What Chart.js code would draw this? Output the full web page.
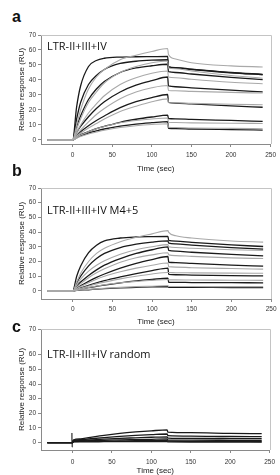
<!DOCTYPE html>
<html>
<head>
<meta charset="utf-8">
<script src="https://cdn.jsdelivr.net/npm/chart.js@4.4.1/dist/chart.umd.min.js"></script>
<style>
  html, body { margin: 0; padding: 0; background: #fff; overflow: hidden; }
  body { width: 280px; height: 475px; position: relative; }
  canvas { position: absolute; left: 0; }
  .letter { position: absolute; left: 12px; font: bold 16px "Liberation Sans", Arial, sans-serif; color: #111; line-height: 16px; }
  .label { position: absolute; left: 47px; font: 11px "Open Sans", sans-serif; color: #111; white-space: nowrap; line-height: 14px; }
</style>
</head>
<body>
<div class="letter" style="top:9px">a</div>
<canvas id="chartA" width="280" height="150" style="top:25px"></canvas>
<div class="label" style="top:39px">LTR-II+III+IV</div>

<div class="letter" style="top:163px">b</div>
<canvas id="chartB" width="280" height="150" style="top:178px"></canvas>
<div class="label" style="top:203px">LTR-II+III+IV M4+5</div>

<div class="letter" style="top:319px">c</div>
<canvas id="chartC" width="280" height="158" style="top:319px"></canvas>
<div class="label" style="top:347px">LTR-II+III+IV random</div>

<script>
// time points (sec) the curves were read at
const timeAB = [-32, 0, 5, 10, 20, 30, 40, 60, 80, 100, 120, 121, 130, 150, 200, 240];
const timeC = [-32, 0, 1, 10, 20, 40, 60, 80, 100, 120, 121, 150, 200, 240];

const xTicks = [0, 50, 100, 150, 200, 250];
const yTicks = [0, 10, 20, 30, 40, 50, 60, 70];

// panel a - fitted curves (black)
const aFit1 = [0, 0, 22, 36, 49, 53, 54.5, 55.3, 55.5, 55.6, 55.7, 49, 48.3, 47.2, 45, 43.8];
const aFit2 = [0, 0, 14, 25, 37, 43, 47, 51, 52.5, 53.2, 53.5, 48.5, 48, 47, 44.8, 43.5];
const aFit3 = [0, 0, 9, 16, 27, 34, 39, 45, 48, 49.5, 50.5, 45.5, 45, 44, 41.8, 40.2];
const aFit4 = [0, 0, 5, 9, 15.5, 21, 25.5, 32, 36.5, 39.5, 42, 36, 35.5, 34.8, 33.2, 32];
const aFit5 = [0, 0, 3, 5.5, 9.5, 13, 16, 21.5, 25.5, 28.3, 30.3, 25, 24.6, 24, 22.7, 21.8];
const aFit6 = [0, 0, 2, 3.5, 5.5, 7.5, 9, 11.8, 13.8, 15.3, 16.5, 14.3, 14.1, 13.7, 13, 12.4];
const aFit7 = [0, 0, 1.5, 2.8, 4.5, 6, 7.3, 9.2, 10.6, 11.5, 12.2, 7.8, 7.6, 7.3, 6.9, 6.6];
// panel a - measured curves (grey)
const aRaw1 = [0, 0, 10, 20, 34, 42, 47, 53.5, 56.5, 59, 61, 57, 54, 51.5, 49.4, 48.7];
const aRaw2 = [0, 0, 7, 14, 25, 32, 38, 45, 49, 51.5, 52.7, 48, 47.5, 46, 43, 41.2];
const aRaw3 = [0, 0, 5, 10, 18, 24, 29.5, 37, 41.5, 44.5, 46, 42, 41.5, 40.5, 38.5, 37.5];
const aRaw4 = [0, 0, 3.5, 6.5, 12, 17, 21, 27.5, 32, 34.8, 36.3, 33, 32.8, 32.4, 31.7, 31.3];
const aRaw5 = [0, 0, 2.5, 4.5, 8, 11, 14, 19, 22.5, 25.5, 27.4, 25, 24.8, 24.4, 23.8, 23.5];
const aRaw6 = [0, 0, 1.8, 3.3, 5.5, 7.5, 9, 11.5, 13, 14, 14.6, 11.8, 11.6, 11.4, 11.1, 11];
const aRaw7 = [0, 0, 1.2, 2.3, 4, 5.3, 6.5, 8.3, 9.5, 10.3, 10.8, 8.5, 8.3, 8, 7.7, 7.5];

// panel b - fitted curves (black)
const bFit1 = [0, 0, 10, 17, 26, 31, 34, 36, 36.7, 36.9, 37, 34.3, 33.8, 33, 31.3, 30.2];
const bFit2 = [0, 0, 5.5, 10, 17, 22, 25.5, 29.5, 31.8, 33.2, 34, 32.5, 32, 31.2, 29.5, 28.4];
const bFit3 = [0, 0, 3.3, 6, 10.5, 14.3, 17.5, 22, 25.5, 28, 30, 27.5, 27, 26.3, 24.8, 23.9];
const bFit4 = [0, 0, 2, 3.5, 6.5, 9.2, 11.5, 15.5, 18.8, 21.3, 23.4, 19.5, 19.2, 18.7, 17.5, 16.8];
const bFit5 = [0, 0, 1.1, 2, 3.8, 5.5, 7, 9.5, 11.8, 13.8, 15.5, 11.2, 11, 10.8, 10.4, 10.2];
const bFit6 = [0, 0, 0.6, 1.2, 2.2, 3.1, 4, 5.5, 6.8, 7.8, 8.6, 5.8, 5.8, 5.7, 5.6, 5.5];
const bFit7 = [0, 0, 0.3, 0.5, 0.8, 1.2, 1.5, 2, 2.4, 2.8, 3, 2.4, 2.4, 2.4, 2.3, 2.3];
// panel b - measured curves (grey)
const bRaw1 = [0, 0, 6, 12, 20, 25.5, 29, 33.5, 36.5, 38.8, 41, 39.8, 37.5, 36, 34, 33.2];
const bRaw2 = [0, 0, 4, 8, 13.5, 17.5, 20.5, 25, 28, 30, 31.5, 30, 29.5, 29, 28, 27.5];
const bRaw3 = [0, 0, 2.5, 5, 9, 12.3, 15, 19.5, 22.5, 24.5, 26, 24.5, 24, 23.5, 22.5, 22];
const bRaw4 = [0, 0, 1.5, 3, 5.5, 8, 10, 13, 15.5, 17.5, 19, 16.5, 16.2, 15.8, 15.2, 14.8];
const bRaw5 = [0, 0, 1, 1.8, 3.3, 4.8, 6, 8.2, 10, 11.5, 12.5, 12.5, 12.4, 12.3, 12.1, 12];
const bRaw6 = [0, 0, 0.6, 1.2, 2.3, 3.3, 4.2, 5.5, 6.5, 7.2, 7.8, 7.5, 7.5, 7.4, 7.3, 7.2];
const bRaw7 = [0, 0, 0.3, 0.6, 1, 1.4, 1.8, 2.4, 2.9, 3.2, 3.5, 3, 3, 3, 2.9, 2.9];

// panel c - curves (all dark)
const cFit1 = [0, 0, 1.8, 2.6, 3.4, 5, 6.3, 7.3, 8.1, 8.7, 7.2, 6.8, 6.3, 6.1];
const cFit2 = [0, 0, 1.5, 2, 2.5, 3.5, 4.3, 5, 5.5, 5.9, 4.8, 4.5, 4.2, 4.1];
const cFit3 = [0, 0, 1.2, 1.4, 1.8, 2.4, 2.9, 3.3, 3.7, 4, 3.1, 2.9, 2.8, 2.7];
const cFit4 = [0, 0, 1, 1.1, 1.3, 1.6, 1.9, 2.1, 2.3, 2.5, 1.8, 1.7, 1.6, 1.5];
const cFit5 = [0, 0, 0.8, 0.85, 0.9, 1, 1.15, 1.3, 1.4, 1.5, 1, 0.9, 0.85, 0.8];
const cFit6 = [0, 0, 0.5, 0.55, 0.6, 0.65, 0.7, 0.75, 0.8, 0.8, 0.5, 0.45, 0.4, 0.4];
// injection spike at t=0 in panel c
const cSpikeTime = [-1, -0.8, -0.6, 0];
const cSpike = [0, 6.6, -3, 0.5];

const GREY = '#a9a9a9';
const BLACK = '#1a1a1a';
const AXIS = '#8a8a8a';

const toPoints = (time, values) => time.map((t, i) => ({ x: t, y: values[i] }));

const lineSet = (time, values, color, width) => ({
  data: toPoints(time, values),
  borderColor: color,
  borderWidth: width,
  pointRadius: 0,
  fill: false,
  cubicInterpolationMode: 'monotone'
});

// top and right sides of the plot box
const framePlugin = {
  id: 'frame',
  beforeDatasetsDraw(chart) {
    const { ctx, chartArea } = chart;
    ctx.save();
    ctx.strokeStyle = '#c4c4c4';
    ctx.lineWidth = 1;
    ctx.beginPath();
    ctx.moveTo(Math.round(chartArea.left), Math.round(chartArea.top) + 0.5);
    ctx.lineTo(Math.round(chartArea.right) + 0.5, Math.round(chartArea.top) + 0.5);
    ctx.lineTo(Math.round(chartArea.right) + 0.5, Math.round(chartArea.bottom));
    ctx.stroke();
    ctx.restore();
  }
};

const configureChart = (datasets, yMin, yMax, xHeight, labelPad) => ({
  type: 'line',
  data: { datasets },
  plugins: [framePlugin],
  options: {
    responsive: false,
    animation: false,
    layout: { padding: { top: 10, left: 0, right: 0, bottom: 0 } },
    plugins: { legend: { display: false }, tooltip: { enabled: false } },
    scales: {
      x: {
        type: 'linear',
        min: -40,
        max: 250,
        afterBuildTicks: (scale) => { scale.ticks = xTicks.map(v => ({ value: v })); },
        afterFit: (scale) => { scale.height = xHeight; },
        grid: { drawOnChartArea: false, tickLength: 3, color: AXIS },
        border: { color: AXIS },
        ticks: {
          autoSkip: false, maxRotation: 0, padding: labelPad, color: '#333',
          font: { family: 'Liberation Sans', size: 6.5 }
        },
        title: {
          display: true, text: 'Time (sec)', color: '#222',
          font: { family: 'Liberation Sans', size: 8 }, padding: { top: 0, bottom: 1 }
        }
      },
      y: {
        min: yMin,
        max: yMax,
        // the top tick sits on the top of the box
        afterBuildTicks: (scale) => {
          scale.ticks = yTicks.map((v, i) => ({ value: i === yTicks.length - 1 ? scale.max : v }));
        },
        afterFit: (scale) => { scale.width = 41; },
        grid: { drawOnChartArea: false, tickLength: 3, color: AXIS },
        border: { color: AXIS },
        ticks: {
          autoSkip: false, padding: 2, color: '#333',
          font: { family: 'Liberation Sans', size: 6.5 },
          callback: (value, index) => yTicks[index]
        },
        title: {
          display: true, text: 'Relative response (RU)', color: '#222',
          font: { family: 'Liberation Sans', size: 8 }, padding: { top: 17, bottom: 0 }
        }
      }
    }
  }
});

const renderCharts = () => {
  const aRaw = [aRaw1, aRaw2, aRaw3, aRaw4, aRaw5, aRaw6, aRaw7];
  const aFit = [aFit1, aFit2, aFit3, aFit4, aFit5, aFit6, aFit7];
  const setsA = aRaw.map(v => lineSet(timeAB, v, GREY, 1.1)).concat(aFit.map(v => lineSet(timeAB, v, BLACK, 1.3)));
  new Chart(document.getElementById('chartA'), configureChart(setsA, -2.7, 70, 31, 4));

  const bRaw = [bRaw1, bRaw2, bRaw3, bRaw4, bRaw5, bRaw6, bRaw7];
  const bFit = [bFit1, bFit2, bFit3, bFit4, bFit5, bFit6, bFit7];
  const setsB = bRaw.map(v => lineSet(timeAB, v, GREY, 1.1)).concat(bFit.map(v => lineSet(timeAB, v, BLACK, 1.3)));
  new Chart(document.getElementById('chartB'), configureChart(setsB, -5.5, 70, 29, 3.5));

  const cFit = [cFit1, cFit2, cFit3, cFit4, cFit5, cFit6];
  const setsC = cFit.map(v => lineSet(timeC, v, BLACK, 1.3));
  const spike = lineSet(cSpikeTime, cSpike, '#555', 1);
  spike.cubicInterpolationMode = 'default';
  spike.tension = 0;
  setsC.push(spike);
  new Chart(document.getElementById('chartC'), configureChart(setsC, -5, 77.5, 27, 5));
};

window.onload = () => {
  renderCharts();
};
</script>
</body>
</html>
